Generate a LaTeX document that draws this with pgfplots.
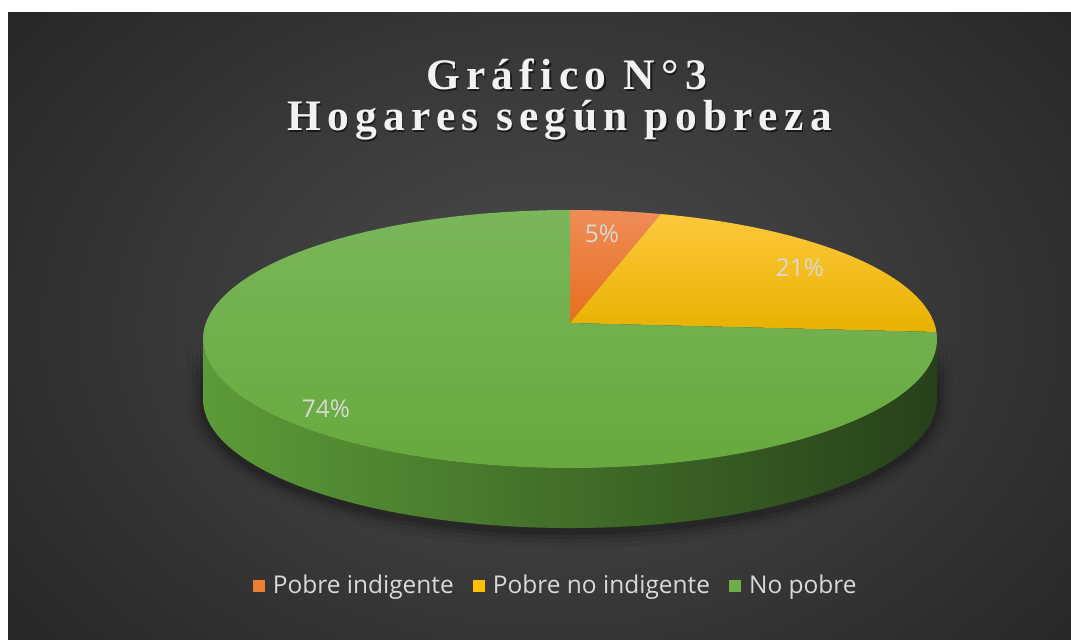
\documentclass[border=0pt]{standalone}
\usepackage{pgfplots}
\pgfplotsset{compat=1.18}
\usepackage{pgfplotstable}
\usepackage{fontspec}
\setmainfont{Open Sans}
\newfontfamily\titlefont{Liberation Serif}[LetterSpace=14.5]

\definecolor{bgin}{HTML}{4C4C4C}
\definecolor{bgout}{HTML}{262626}
\definecolor{oTop}{HTML}{EF8C57}
\definecolor{oBot}{HTML}{E76E1E}
\definecolor{yTop}{HTML}{FDC83C}
\definecolor{yBot}{HTML}{E8B200}
\definecolor{gTop}{HTML}{7AB65A}
\definecolor{gBot}{HTML}{67A93D}
\definecolor{sideL}{HTML}{5C9B38}
\definecolor{sideM}{HTML}{3C6625}
\definecolor{sideR}{HTML}{27401A}
\definecolor{cOrange}{HTML}{ED7D31}
\definecolor{cYellow}{HTML}{FFC000}
\definecolor{cGreen}{HTML}{70AD47}
\definecolor{txt}{HTML}{D9D9D9}
\definecolor{ttl}{HTML}{F2F2F2}

% data (percent of households)
\pgfplotstableread{
label value
{Pobre indigente} 5
{Pobre no indigente} 21
{No pobre} 74
}\piedata
\pgfplotstablegetelem{0}{value}\of\piedata \let\va\pgfplotsretval
\pgfplotstablegetelem{1}{value}\of\piedata \let\vb\pgfplotsretval
\pgfplotstablegetelem{2}{value}\of\piedata \let\vc\pgfplotsretval

% geometry (pixels of the reference): centre of top ellipse, radii, pivot offset, depth
\def\RX{5.4827cm}\def\RY{1.9272cm}\def\DP{0.8964cm}
\def\pp{0.124}\def\qq{1.1095}
% perspective: true angle -> parametric angle on the top ellipse
\newcommand\rimphi[2]{%
 \pgfmathsetmacro\rc{cos(#1)}%
 \pgfmathsetmacro\rs{sin(#1)}%
 \pgfmathsetmacro\rA{\rc*\rc+\qq*\qq*\rs*\rs}%
 \pgfmathsetmacro\rB{2*\pp*\qq*\rs}%
 \pgfmathsetmacro\rt{(-\rB+sqrt(\rB*\rB+4*\rA*(1-\pp*\pp)))/(2*\rA)}%
 \pgfmathsetmacro#2{atan2(\pp+\rt*\qq*\rs,\rt*\rc)}%
}
\pgfmathsetmacro\tA{90}
\pgfmathsetmacro\tB{\tA-3.6*\va}
\pgfmathsetmacro\tC{\tB-3.6*\vb}
\rimphi{\tA}\pA
\rimphi{\tB}\pB
\rimphi{\tC}\pC
\pgfmathsetmacro\pD{\pA-360}

\begin{document}
\begin{tikzpicture}
\begin{axis}[
  width=16cm, height=9.5462cm, scale only axis,
  xmin=0, xmax=1071, ymin=0, ymax=639, y dir=reverse,
  hide axis, clip=false,
  legend columns=3,
  legend image code/.code={\fill[#1] (0pt,-2.6pt) rectangle (5.2pt,2.6pt);},
  legend style={at={(axis cs:557,586)}, anchor=center, draw=none, fill=none,
    text=txt, font=\fontsize{10.4}{12}\selectfont,
    /tikz/every odd column/.append style={column sep=1.4pt},
    /tikz/every even column/.append style={column sep=6pt}},
]
% page and panel
\fill[white] (axis cs:0,0) rectangle (axis cs:1071,639);
\begin{scope}
\clip (axis cs:8,13) rectangle (axis cs:1071,639);
\shade[inner color=bgin, outer color=bgout] (axis cs:-150,-190) rectangle (axis cs:1250,840);
\end{scope}
% soft shadow of the pie
\foreach \d/\o in {16/0.05,11/0.07,7/0.10,3/0.14}{
  \edef\tmp{\noexpand\fill[black, opacity=\o] (axis cs:{570-367-\d},343) arc[start angle=180, end angle=360, x radius=\RX+\d*0.014939cm, y radius=\RY+\d*0.014939cm] -- ++(0,-\DP) arc[start angle=0, end angle=-180, x radius=\RX+\d*0.014939cm, y radius=\RY+\d*0.014939cm] -- cycle;}
  \tmp
}
% side wall (front part belongs to the green slice)
\shade[left color=sideL, middle color=sideM, right color=sideR]
  (axis cs:203,339) arc[start angle=180, end angle=360, x radius=\RX, y radius=\RY]
  -- ++(0,-\DP) arc[start angle=360, end angle=180, x radius=\RX, y radius=\RY] -- cycle;
% top faces
\shade[top color=oTop, bottom color=oBot]
  (axis cs:570,323) -- (axis cs:{570+367*cos(\pA)},{339-129*sin(\pA)})
  arc[start angle=\pA, end angle=\pB, x radius=\RX, y radius=\RY] -- cycle;
\shade[top color=yTop, middle color=cYellow, bottom color=yBot]
  (axis cs:570,323) -- (axis cs:{570+367*cos(\pB)},{339-129*sin(\pB)})
  arc[start angle=\pB, end angle=\pC, x radius=\RX, y radius=\RY] -- cycle;
\shade[top color=gTop, bottom color=gBot]
  (axis cs:570,323) -- (axis cs:{570+367*cos(\pC)},{339-129*sin(\pC)})
  arc[start angle=\pC, end angle=\pD, x radius=\RX, y radius=\RY] -- cycle;
% data labels
\node[text=txt, font=\fontsize{10.4}{12}\selectfont] at (axis cs:602,234) {5\%};
\node[text=txt, font=\fontsize{10.4}{12}\selectfont] at (axis cs:800,268) {21\%};
\node[text=txt, font=\fontsize{10.4}{12}\selectfont] at (axis cs:326,409) {74\%};
% title with shadow
\node[anchor=base, text=black, opacity=0.55, font=\titlefont\bfseries\fontsize{18.5}{20}\selectfont] at (axis cs:568,91.5) {Gráfico N°3};
\node[anchor=base, text=black, opacity=0.55, font=\titlefont\bfseries\fontsize{18.5}{20}\selectfont] at (axis cs:561,132.5) {Hogares según pobreza};
\node[anchor=base, text=ttl, font=\titlefont\bfseries\fontsize{18.5}{20}\selectfont] at (axis cs:566.5,90) {Gráfico N°3};
\node[anchor=base, text=ttl, font=\titlefont\bfseries\fontsize{18.5}{20}\selectfont] at (axis cs:559.5,131) {Hogares según pobreza};
% legend
\addlegendimage{fill=cOrange, draw=none}
\addlegendentry{Pobre indigente}
\addlegendimage{fill=cYellow, draw=none}
\addlegendentry{Pobre no indigente}
\addlegendimage{fill=cGreen, draw=none}
\addlegendentry{No pobre}
\end{axis}
\end{tikzpicture}
\end{document}
